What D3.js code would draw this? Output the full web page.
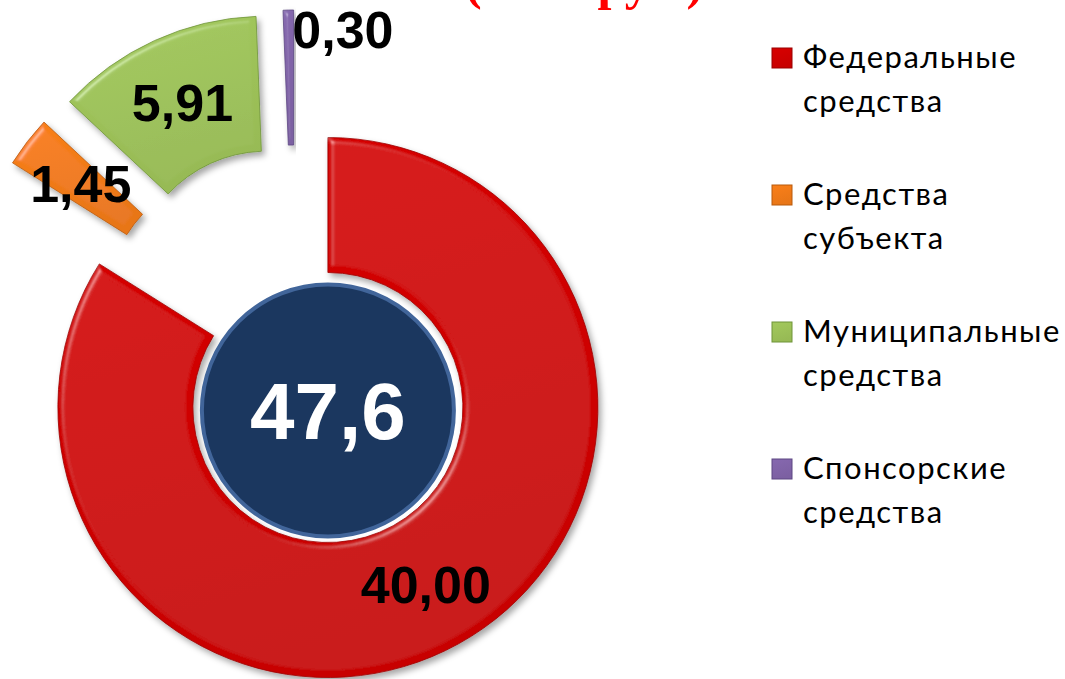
<!DOCTYPE html>
<html>
<head>
<meta charset="utf-8">
<script src="https://cdn.jsdelivr.net/npm/d3@7"></script>
<style>
  body { margin: 0; background: #fff; }
  svg { display: block; }
</style>
</head>
<body>
<div id="chart"></div>
<script>
// Данные диаграммы
const categories = ['Федеральные средства', 'Средства субъекта', 'Муниципальные средства', 'Спонсорские средства'];
const legendLines = [['Федеральные', 'средства'], ['Средства', 'субъекта'], ['Муниципальные', 'средства'], ['Спонсорские', 'средства']];
const values = [40.00, 1.45, 5.91, 0.30];
const valueLabels = ['40,00', '1,45', '5,91', '0,30'];
const totalLabel = '47,6';
const titleText = '(млн. руб.)';

// Цвета
const palette = ['#cf0000', '#f07a18', '#9cc158', '#8064a8'];
const paletteDark = ['#9a0000', '#b85a0c', '#6f9438', '#5c4682'];

const width = 1065, height = 679;
const cx = 295, cy = 348;          // центр круга
const outerR = 270, innerR = 135;  // кольцо
const explode = 68;                // вынос секторов

const svg = d3.select('#chart').append('svg')
    .attr('width', width)
    .attr('height', height);

const defs = svg.append('defs');

// фаска + тень
const bevel = defs.append('filter').attr('id', 'bevel')
    .attr('x', '-20%').attr('y', '-20%').attr('width', '140%').attr('height', '140%');
bevel.append('feGaussianBlur').attr('in', 'SourceAlpha').attr('stdDeviation', 3).attr('result', 'blur');
const spec = bevel.append('feSpecularLighting').attr('in', 'blur')
    .attr('surfaceScale', 4).attr('specularConstant', 0.8).attr('specularExponent', 40)
    .attr('lighting-color', '#ffffff').attr('result', 'spec');
spec.append('feDistantLight').attr('azimuth', 225).attr('elevation', 45);
bevel.append('feComposite').attr('in', 'spec').attr('in2', 'SourceAlpha').attr('operator', 'in').attr('result', 'specOut');
bevel.append('feComposite').attr('in', 'SourceGraphic').attr('in2', 'specOut')
    .attr('operator', 'arithmetic').attr('k1', 0).attr('k2', 1).attr('k3', 0.3).attr('k4', 0).attr('result', 'lit');
bevel.append('feDropShadow').attr('in', 'lit').attr('dx', 3).attr('dy', 4).attr('stdDeviation', 3)
    .attr('flood-color', '#000').attr('flood-opacity', 0.35);

// градиенты для секторов
palette.forEach((c, i) => {
    const g = defs.append('linearGradient').attr('id', 'grad' + i)
        .attr('x1', 0).attr('y1', 0).attr('x2', 0.3).attr('y2', 1);
    g.append('stop').attr('offset', '0%').attr('stop-color', d3.color(c).brighter(0.12));
    g.append('stop').attr('offset', '100%').attr('stop-color', d3.color(c).darker(0.1));
});

const pie = d3.pie().sort(null).value(d => d);
const arcs = pie(values);
const total = d3.sum(values);

const arc = d3.arc().innerRadius(innerR).outerRadius(outerR);

const shift = d => {
    const mid = (d.startAngle + d.endAngle) / 2;
    return [explode * Math.sin(mid), -explode * Math.cos(mid)];
};
const isSmall = d => d.value / total < 0.02;

const slices = svg.append('g')
    .attr('transform', `translate(${cx}, ${cy})`)
    .selectAll('g')
    .data(arcs)
    .enter()
    .append('g')
    .attr('transform', d => `translate(${shift(d)[0]}, ${shift(d)[1]})`);

slices.append('path')
    .attr('d', arc)
    .attr('fill', (d, i) => `url(#grad${i})`)
    .attr('stroke', (d, i) => paletteDark[i])
    .attr('stroke-width', 0.8)
    .attr('filter', 'url(#bevel)');

// подписи значений (маленький сектор — подпись справа от внешнего края)
slices.append('text')
    .attr('x', d => {
        const mid = (d.startAngle + d.endAngle) / 2;
        return isSmall(d) ? outerR * Math.sin(mid) + 4 : arc.centroid(d)[0];
    })
    .attr('y', d => {
        const mid = (d.startAngle + d.endAngle) / 2;
        return isSmall(d) ? -outerR * Math.cos(mid) + 38 : arc.centroid(d)[1];
    })
    .attr('dy', d => isSmall(d) ? 0 : '0.36em')
    .attr('text-anchor', d => isSmall(d) ? 'start' : 'middle')
    .attr('font-family', '"Liberation Sans", Arial, sans-serif')
    .attr('font-weight', 'bold')
    .attr('font-size', 52)
    .attr('fill', '#000')
    .text((d, i) => valueLabels[i]);

// центральный круг с итогом (в центре красного сектора)
const main = arcs[0];
const mc = [cx + shift(main)[0], cy + shift(main)[1] + 3];

svg.append('circle')
    .attr('cx', mc[0]).attr('cy', mc[1])
    .attr('r', 126)
    .attr('fill', '#1b375f')
    .attr('stroke', '#41659a')
    .attr('stroke-width', 4);

svg.append('text')
    .attr('x', mc[0]).attr('y', mc[1])
    .attr('dy', '0.36em')
    .attr('text-anchor', 'middle')
    .attr('font-family', '"Liberation Sans", Arial, sans-serif')
    .attr('font-weight', 'bold')
    .attr('font-size', 80)
    .attr('fill', '#fff')
    .text(totalLabel);

// заголовок (обрезан верхним краем, как на исходном слайде)
svg.append('text')
    .attr('x', 465).attr('y', -1)
    .attr('font-family', '"Liberation Serif", "Times New Roman", serif')
    .attr('font-weight', 'bold')
    .attr('font-size', 50)
    .attr('fill', '#ff0000')
    .text(titleText);

// легенда
const ly = d3.scalePoint().domain(categories).range([68, 479]);

const legend = svg.append('g')
    .selectAll('g')
    .data(categories)
    .enter()
    .append('g')
    .attr('transform', d => `translate(772, ${ly(d)})`);

legend.append('rect')
    .attr('x', 0).attr('y', -20)
    .attr('width', 20).attr('height', 20)
    .attr('fill', (d, i) => `url(#grad${i})`)
    .attr('stroke', (d, i) => paletteDark[i])
    .attr('stroke-width', 1);

legend.append('text')
    .attr('font-family', 'Lato, "Open Sans", sans-serif')
    .attr('font-size', 31)
    .attr('letter-spacing', 1.5)
    .attr('fill', '#000')
    .selectAll('tspan')
    .data((d, i) => legendLines[i])
    .enter()
    .append('tspan')
    .attr('x', 31)
    .attr('y', (d, j) => j * 44)
    .text(d => d);
</script>
</body>
</html>
